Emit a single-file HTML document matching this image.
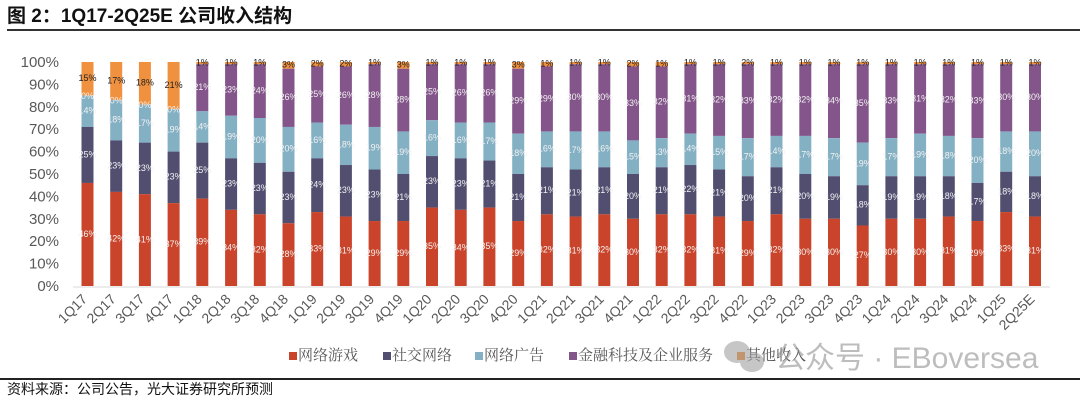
<!DOCTYPE html>
<html><head><meta charset="utf-8"><style>
html,body{margin:0;padding:0;background:#fff;}
svg{display:block;font-family:"Liberation Sans","Noto Sans CJK SC",sans-serif;}
.l{font-size:9px;fill:#f2f2f2;text-anchor:middle;dominant-baseline:middle;}
.k{font-size:9px;fill:#222;text-anchor:middle;dominant-baseline:middle;}
.y{font-size:15px;fill:#595959;text-anchor:end;dominant-baseline:middle;}
.x{font-size:14px;fill:#595959;text-anchor:end;}
.lg{font-size:15px;fill:#595959;dominant-baseline:middle;font-family:"Noto Serif CJK SC","Noto Sans CJK SC",serif;}
</style></head><body>
<svg width="1080" height="401" viewBox="0 0 1080 401">
<text x="7" y="22" style="font-size:19px;font-weight:bold;fill:#111">图 2：1Q17-2Q25E  公司收入结构</text>
<rect x="7" y="29" width="1073" height="2" fill="#333"/>
<g>
<text class="y" x="59" y="287">0%</text><text class="y" x="59" y="264.6">10%</text><text class="y" x="59" y="242.2">20%</text><text class="y" x="59" y="219.8">30%</text><text class="y" x="59" y="197.4">40%</text><text class="y" x="59" y="175">50%</text><text class="y" x="59" y="152.6">60%</text><text class="y" x="59" y="130.2">70%</text><text class="y" x="59" y="107.8">80%</text><text class="y" x="59" y="85.4">90%</text><text class="y" x="59" y="63">100%</text>
</g>
<line x1="73" y1="287" x2="1050" y2="287" stroke="#d9d9d9" stroke-width="1"/>
<defs>
<g id="t"><line x1="0" y1="287" x2="0" y2="291" stroke="#d9d9d9"/></g>
</defs>
<g id="bars">
<!-- bar template: r,d,l,p,o -->
<g transform="translate(87.5,62) scale(1,2.24)"><rect x="-6" y="0" width="12" height="15" fill="#f0913f"/><rect x="-6" y="15" width="12" height="14" fill="#84b0c4"/><rect x="-6" y="29" width="12" height="25" fill="#524e70"/><rect x="-6" y="54" width="12" height="46" fill="#c9442a"/>
<text class="l" transform="translate(0,77) scale(1,.4464)">46%</text><text class="l" transform="translate(0,41.5) scale(1,.4464)">25%</text><text class="l" transform="translate(0,22) scale(1,.4464)">14%</text><text class="l" transform="translate(0,15.5) scale(1,.4464)">0%</text><text class="k" transform="translate(0,7.5) scale(1,.4464)">15%</text></g>
<g transform="translate(116.2,62) scale(1,2.24)"><rect x="-6" y="0" width="12" height="17" fill="#f0913f"/><rect x="-6" y="17" width="12" height="18" fill="#84b0c4"/><rect x="-6" y="35" width="12" height="23" fill="#524e70"/><rect x="-6" y="58" width="12" height="42" fill="#c9442a"/>
<text class="l" transform="translate(0,79) scale(1,.4464)">42%</text><text class="l" transform="translate(0,46.5) scale(1,.4464)">23%</text><text class="l" transform="translate(0,26) scale(1,.4464)">18%</text><text class="l" transform="translate(0,17.5) scale(1,.4464)">0%</text><text class="k" transform="translate(0,8.5) scale(1,.4464)">17%</text></g>
<g transform="translate(144.9,62) scale(1,2.24)"><rect x="-6" y="0" width="12" height="19" fill="#f0913f"/><rect x="-6" y="19" width="12" height="17" fill="#84b0c4"/><rect x="-6" y="36" width="12" height="23" fill="#524e70"/><rect x="-6" y="59" width="12" height="41" fill="#c9442a"/>
<text class="l" transform="translate(0,79.5) scale(1,.4464)">41%</text><text class="l" transform="translate(0,47.5) scale(1,.4464)">23%</text><text class="l" transform="translate(0,27.5) scale(1,.4464)">17%</text><text class="l" transform="translate(0,19.5) scale(1,.4464)">0%</text><text class="k" transform="translate(0,9.5) scale(1,.4464)">18%</text></g>
<g transform="translate(173.6,62) scale(1,2.24)"><rect x="-6" y="0" width="12" height="21" fill="#f0913f"/><rect x="-6" y="21" width="12" height="19" fill="#84b0c4"/><rect x="-6" y="40" width="12" height="23" fill="#524e70"/><rect x="-6" y="63" width="12" height="37" fill="#c9442a"/>
<text class="l" transform="translate(0,81.5) scale(1,.4464)">37%</text><text class="l" transform="translate(0,51.5) scale(1,.4464)">23%</text><text class="l" transform="translate(0,30.5) scale(1,.4464)">19%</text><text class="l" transform="translate(0,21.5) scale(1,.4464)">0%</text><text class="k" transform="translate(0,10.5) scale(1,.4464)">21%</text></g>
</g>
<g id="b2">
<g transform="translate(202.3,62) scale(1,2.24)"><rect x="-6" y="0" width="12" height="1" fill="#f0913f"/><rect x="-6" y="1" width="12" height="21" fill="#83558a"/><rect x="-6" y="22" width="12" height="14" fill="#84b0c4"/><rect x="-6" y="36" width="12" height="25" fill="#524e70"/><rect x="-6" y="61" width="12" height="39" fill="#c9442a"/>
<text class="l" transform="translate(0,80.5) scale(1,.4464)">39%</text><text class="l" transform="translate(0,48.5) scale(1,.4464)">25%</text><text class="l" transform="translate(0,29) scale(1,.4464)">14%</text><text class="l" transform="translate(0,11.5) scale(1,.4464)">21%</text><text class="k" transform="translate(0,.5) scale(1,.4464)">1%</text></g>
<g transform="translate(231.1,62) scale(1,2.24)"><rect x="-6" y="0" width="12" height="1" fill="#f0913f"/><rect x="-6" y="1" width="12" height="23" fill="#83558a"/><rect x="-6" y="24" width="12" height="19" fill="#84b0c4"/><rect x="-6" y="43" width="12" height="23" fill="#524e70"/><rect x="-6" y="66" width="12" height="34" fill="#c9442a"/>
<text class="l" transform="translate(0,83) scale(1,.4464)">34%</text><text class="l" transform="translate(0,54.5) scale(1,.4464)">23%</text><text class="l" transform="translate(0,33.5) scale(1,.4464)">19%</text><text class="l" transform="translate(0,12.5) scale(1,.4464)">23%</text><text class="k" transform="translate(0,.5) scale(1,.4464)">1%</text></g>
<g transform="translate(259.8,62) scale(1,2.24)"><rect x="-6" y="0" width="12" height="1" fill="#f0913f"/><rect x="-6" y="1" width="12" height="24" fill="#83558a"/><rect x="-6" y="25" width="12" height="20" fill="#84b0c4"/><rect x="-6" y="45" width="12" height="23" fill="#524e70"/><rect x="-6" y="68" width="12" height="32" fill="#c9442a"/>
<text class="l" transform="translate(0,84) scale(1,.4464)">32%</text><text class="l" transform="translate(0,56.5) scale(1,.4464)">23%</text><text class="l" transform="translate(0,35) scale(1,.4464)">20%</text><text class="l" transform="translate(0,13) scale(1,.4464)">24%</text><text class="k" transform="translate(0,.5) scale(1,.4464)">1%</text></g>
<g transform="translate(288.5,62) scale(1,2.24)"><rect x="-6" y="0" width="12" height="3" fill="#f0913f"/><rect x="-6" y="3" width="12" height="26" fill="#83558a"/><rect x="-6" y="29" width="12" height="20" fill="#84b0c4"/><rect x="-6" y="49" width="12" height="23" fill="#524e70"/><rect x="-6" y="72" width="12" height="28" fill="#c9442a"/>
<text class="l" transform="translate(0,86) scale(1,.4464)">28%</text><text class="l" transform="translate(0,60.5) scale(1,.4464)">23%</text><text class="l" transform="translate(0,39) scale(1,.4464)">20%</text><text class="l" transform="translate(0,16) scale(1,.4464)">26%</text><text class="k" transform="translate(0,1.5) scale(1,.4464)">3%</text></g>
<g transform="translate(317.2,62) scale(1,2.24)"><rect x="-6" y="0" width="12" height="2" fill="#f0913f"/><rect x="-6" y="2" width="12" height="25" fill="#83558a"/><rect x="-6" y="27" width="12" height="16" fill="#84b0c4"/><rect x="-6" y="43" width="12" height="24" fill="#524e70"/><rect x="-6" y="67" width="12" height="33" fill="#c9442a"/>
<text class="l" transform="translate(0,83.5) scale(1,.4464)">33%</text><text class="l" transform="translate(0,55) scale(1,.4464)">24%</text><text class="l" transform="translate(0,35) scale(1,.4464)">16%</text><text class="l" transform="translate(0,14.5) scale(1,.4464)">25%</text><text class="k" transform="translate(0,1) scale(1,.4464)">2%</text></g>
<g transform="translate(345.9,62) scale(1,2.24)"><rect x="-6" y="0" width="12" height="2" fill="#f0913f"/><rect x="-6" y="2" width="12" height="26" fill="#83558a"/><rect x="-6" y="28" width="12" height="18" fill="#84b0c4"/><rect x="-6" y="46" width="12" height="23" fill="#524e70"/><rect x="-6" y="69" width="12" height="31" fill="#c9442a"/>
<text class="l" transform="translate(0,84.5) scale(1,.4464)">31%</text><text class="l" transform="translate(0,57.5) scale(1,.4464)">23%</text><text class="l" transform="translate(0,37) scale(1,.4464)">18%</text><text class="l" transform="translate(0,15) scale(1,.4464)">26%</text><text class="k" transform="translate(0,1) scale(1,.4464)">2%</text></g>
<g transform="translate(374.6,62) scale(1,2.24)"><rect x="-6" y="0" width="12" height="1" fill="#f0913f"/><rect x="-6" y="1" width="12" height="28" fill="#83558a"/><rect x="-6" y="29" width="12" height="19" fill="#84b0c4"/><rect x="-6" y="48" width="12" height="23" fill="#524e70"/><rect x="-6" y="71" width="12" height="29" fill="#c9442a"/>
<text class="l" transform="translate(0,85.5) scale(1,.4464)">29%</text><text class="l" transform="translate(0,59.5) scale(1,.4464)">23%</text><text class="l" transform="translate(0,38.5) scale(1,.4464)">19%</text><text class="l" transform="translate(0,15) scale(1,.4464)">28%</text><text class="k" transform="translate(0,.5) scale(1,.4464)">1%</text></g>
<g transform="translate(403.3,62) scale(1,2.24)"><rect x="-6" y="0" width="12" height="3" fill="#f0913f"/><rect x="-6" y="3" width="12" height="28" fill="#83558a"/><rect x="-6" y="31" width="12" height="19" fill="#84b0c4"/><rect x="-6" y="50" width="12" height="21" fill="#524e70"/><rect x="-6" y="71" width="12" height="29" fill="#c9442a"/>
<text class="l" transform="translate(0,85.5) scale(1,.4464)">29%</text><text class="l" transform="translate(0,60.5) scale(1,.4464)">21%</text><text class="l" transform="translate(0,40.5) scale(1,.4464)">19%</text><text class="l" transform="translate(0,17) scale(1,.4464)">28%</text><text class="k" transform="translate(0,1.5) scale(1,.4464)">3%</text></g>
<g transform="translate(432,62) scale(1,2.24)"><rect x="-6" y="0" width="12" height="1" fill="#f0913f"/><rect x="-6" y="1" width="12" height="25" fill="#83558a"/><rect x="-6" y="26" width="12" height="16" fill="#84b0c4"/><rect x="-6" y="42" width="12" height="23" fill="#524e70"/><rect x="-6" y="65" width="12" height="35" fill="#c9442a"/>
<text class="l" transform="translate(0,82.5) scale(1,.4464)">35%</text><text class="l" transform="translate(0,53.5) scale(1,.4464)">23%</text><text class="l" transform="translate(0,34) scale(1,.4464)">16%</text><text class="l" transform="translate(0,13.5) scale(1,.4464)">25%</text><text class="k" transform="translate(0,.5) scale(1,.4464)">1%</text></g>
<g transform="translate(460.7,62) scale(1,2.24)"><rect x="-6" y="0" width="12" height="1" fill="#f0913f"/><rect x="-6" y="1" width="12" height="26" fill="#83558a"/><rect x="-6" y="27" width="12" height="16" fill="#84b0c4"/><rect x="-6" y="43" width="12" height="23" fill="#524e70"/><rect x="-6" y="66" width="12" height="34" fill="#c9442a"/>
<text class="l" transform="translate(0,83) scale(1,.4464)">34%</text><text class="l" transform="translate(0,54.5) scale(1,.4464)">23%</text><text class="l" transform="translate(0,35) scale(1,.4464)">16%</text><text class="l" transform="translate(0,14) scale(1,.4464)">26%</text><text class="k" transform="translate(0,.5) scale(1,.4464)">1%</text></g>
<g transform="translate(489.4,62) scale(1,2.24)"><rect x="-6" y="0" width="12" height="1" fill="#f0913f"/><rect x="-6" y="1" width="12" height="26" fill="#83558a"/><rect x="-6" y="27" width="12" height="17" fill="#84b0c4"/><rect x="-6" y="44" width="12" height="21" fill="#524e70"/><rect x="-6" y="65" width="12" height="35" fill="#c9442a"/>
<text class="l" transform="translate(0,82.5) scale(1,.4464)">35%</text><text class="l" transform="translate(0,54.5) scale(1,.4464)">21%</text><text class="l" transform="translate(0,35.5) scale(1,.4464)">17%</text><text class="l" transform="translate(0,14) scale(1,.4464)">26%</text><text class="k" transform="translate(0,.5) scale(1,.4464)">1%</text></g>
<g transform="translate(518.2,62) scale(1,2.24)"><rect x="-6" y="0" width="12" height="3" fill="#f0913f"/><rect x="-6" y="3" width="12" height="29" fill="#83558a"/><rect x="-6" y="32" width="12" height="18" fill="#84b0c4"/><rect x="-6" y="50" width="12" height="21" fill="#524e70"/><rect x="-6" y="71" width="12" height="29" fill="#c9442a"/>
<text class="l" transform="translate(0,85.5) scale(1,.4464)">29%</text><text class="l" transform="translate(0,60.5) scale(1,.4464)">21%</text><text class="l" transform="translate(0,41) scale(1,.4464)">18%</text><text class="l" transform="translate(0,17.5) scale(1,.4464)">29%</text><text class="k" transform="translate(0,1.5) scale(1,.4464)">3%</text></g>
<g transform="translate(546.9,62) scale(1,2.24)"><rect x="-6" y="0" width="12" height="2" fill="#f0913f"/><rect x="-6" y="2" width="12" height="29" fill="#83558a"/><rect x="-6" y="31" width="12" height="16" fill="#84b0c4"/><rect x="-6" y="47" width="12" height="21" fill="#524e70"/><rect x="-6" y="68" width="12" height="32" fill="#c9442a"/>
<text class="l" transform="translate(0,84) scale(1,.4464)">32%</text><text class="l" transform="translate(0,57.5) scale(1,.4464)">21%</text><text class="l" transform="translate(0,39) scale(1,.4464)">16%</text><text class="l" transform="translate(0,16.5) scale(1,.4464)">29%</text><text class="k" transform="translate(0,1) scale(1,.4464)">1%</text></g>
<g transform="translate(575.6,62) scale(1,2.24)"><rect x="-6" y="0" width="12" height="1" fill="#f0913f"/><rect x="-6" y="1" width="12" height="30" fill="#83558a"/><rect x="-6" y="31" width="12" height="17" fill="#84b0c4"/><rect x="-6" y="48" width="12" height="21" fill="#524e70"/><rect x="-6" y="69" width="12" height="31" fill="#c9442a"/>
<text class="l" transform="translate(0,84.5) scale(1,.4464)">31%</text><text class="l" transform="translate(0,58.5) scale(1,.4464)">21%</text><text class="l" transform="translate(0,39.5) scale(1,.4464)">17%</text><text class="l" transform="translate(0,16) scale(1,.4464)">30%</text><text class="k" transform="translate(0,.5) scale(1,.4464)">1%</text></g>
<g transform="translate(604.3,62) scale(1,2.24)"><rect x="-6" y="0" width="12" height="1" fill="#f0913f"/><rect x="-6" y="1" width="12" height="30" fill="#83558a"/><rect x="-6" y="31" width="12" height="16" fill="#84b0c4"/><rect x="-6" y="47" width="12" height="21" fill="#524e70"/><rect x="-6" y="68" width="12" height="32" fill="#c9442a"/>
<text class="l" transform="translate(0,84) scale(1,.4464)">32%</text><text class="l" transform="translate(0,57.5) scale(1,.4464)">21%</text><text class="l" transform="translate(0,39) scale(1,.4464)">16%</text><text class="l" transform="translate(0,16) scale(1,.4464)">30%</text><text class="k" transform="translate(0,.5) scale(1,.4464)">1%</text></g>
<g transform="translate(633,62) scale(1,2.24)"><rect x="-6" y="0" width="12" height="2" fill="#f0913f"/><rect x="-6" y="2" width="12" height="33" fill="#83558a"/><rect x="-6" y="35" width="12" height="15" fill="#84b0c4"/><rect x="-6" y="50" width="12" height="20" fill="#524e70"/><rect x="-6" y="70" width="12" height="30" fill="#c9442a"/>
<text class="l" transform="translate(0,85) scale(1,.4464)">30%</text><text class="l" transform="translate(0,60) scale(1,.4464)">20%</text><text class="l" transform="translate(0,42.5) scale(1,.4464)">15%</text><text class="l" transform="translate(0,18.5) scale(1,.4464)">33%</text><text class="k" transform="translate(0,1) scale(1,.4464)">2%</text></g>
<g transform="translate(661.7,62) scale(1,2.24)"><rect x="-6" y="0" width="12" height="2" fill="#f0913f"/><rect x="-6" y="2" width="12" height="32" fill="#83558a"/><rect x="-6" y="34" width="12" height="13" fill="#84b0c4"/><rect x="-6" y="47" width="12" height="21" fill="#524e70"/><rect x="-6" y="68" width="12" height="32" fill="#c9442a"/>
<text class="l" transform="translate(0,84) scale(1,.4464)">32%</text><text class="l" transform="translate(0,57.5) scale(1,.4464)">21%</text><text class="l" transform="translate(0,40.5) scale(1,.4464)">13%</text><text class="l" transform="translate(0,18) scale(1,.4464)">32%</text><text class="k" transform="translate(0,1) scale(1,.4464)">1%</text></g>
<g transform="translate(690.4,62) scale(1,2.24)"><rect x="-6" y="0" width="12" height="1" fill="#f0913f"/><rect x="-6" y="1" width="12" height="31" fill="#83558a"/><rect x="-6" y="32" width="12" height="14" fill="#84b0c4"/><rect x="-6" y="46" width="12" height="22" fill="#524e70"/><rect x="-6" y="68" width="12" height="32" fill="#c9442a"/>
<text class="l" transform="translate(0,84) scale(1,.4464)">32%</text><text class="l" transform="translate(0,57) scale(1,.4464)">22%</text><text class="l" transform="translate(0,39) scale(1,.4464)">14%</text><text class="l" transform="translate(0,16.5) scale(1,.4464)">31%</text><text class="k" transform="translate(0,.5) scale(1,.4464)">1%</text></g>
<g transform="translate(719.1,62) scale(1,2.24)"><rect x="-6" y="0" width="12" height="1" fill="#f0913f"/><rect x="-6" y="1" width="12" height="32" fill="#83558a"/><rect x="-6" y="33" width="12" height="15" fill="#84b0c4"/><rect x="-6" y="48" width="12" height="21" fill="#524e70"/><rect x="-6" y="69" width="12" height="31" fill="#c9442a"/>
<text class="l" transform="translate(0,84.5) scale(1,.4464)">31%</text><text class="l" transform="translate(0,58.5) scale(1,.4464)">21%</text><text class="l" transform="translate(0,40.5) scale(1,.4464)">15%</text><text class="l" transform="translate(0,17) scale(1,.4464)">32%</text><text class="k" transform="translate(0,.5) scale(1,.4464)">1%</text></g>
<g transform="translate(747.8,62) scale(1,2.24)"><rect x="-6" y="0" width="12" height="1" fill="#f0913f"/><rect x="-6" y="1" width="12" height="33" fill="#83558a"/><rect x="-6" y="34" width="12" height="17" fill="#84b0c4"/><rect x="-6" y="51" width="12" height="20" fill="#524e70"/><rect x="-6" y="71" width="12" height="29" fill="#c9442a"/>
<text class="l" transform="translate(0,85.5) scale(1,.4464)">29%</text><text class="l" transform="translate(0,61) scale(1,.4464)">20%</text><text class="l" transform="translate(0,42.5) scale(1,.4464)">17%</text><text class="l" transform="translate(0,17.5) scale(1,.4464)">33%</text><text class="k" transform="translate(0,.5) scale(1,.4464)">2%</text></g>
<g transform="translate(776.5,62) scale(1,2.24)"><rect x="-6" y="0" width="12" height="1" fill="#f0913f"/><rect x="-6" y="1" width="12" height="32" fill="#83558a"/><rect x="-6" y="33" width="12" height="14" fill="#84b0c4"/><rect x="-6" y="47" width="12" height="21" fill="#524e70"/><rect x="-6" y="68" width="12" height="32" fill="#c9442a"/>
<text class="l" transform="translate(0,84) scale(1,.4464)">32%</text><text class="l" transform="translate(0,57.5) scale(1,.4464)">21%</text><text class="l" transform="translate(0,40) scale(1,.4464)">14%</text><text class="l" transform="translate(0,17) scale(1,.4464)">32%</text><text class="k" transform="translate(0,.5) scale(1,.4464)">1%</text></g>
<g transform="translate(805.3,62) scale(1,2.24)"><rect x="-6" y="0" width="12" height="1" fill="#f0913f"/><rect x="-6" y="1" width="12" height="32" fill="#83558a"/><rect x="-6" y="33" width="12" height="17" fill="#84b0c4"/><rect x="-6" y="50" width="12" height="20" fill="#524e70"/><rect x="-6" y="70" width="12" height="30" fill="#c9442a"/>
<text class="l" transform="translate(0,85) scale(1,.4464)">30%</text><text class="l" transform="translate(0,60) scale(1,.4464)">20%</text><text class="l" transform="translate(0,41.5) scale(1,.4464)">17%</text><text class="l" transform="translate(0,17) scale(1,.4464)">32%</text><text class="k" transform="translate(0,.5) scale(1,.4464)">1%</text></g>
<g transform="translate(834,62) scale(1,2.24)"><rect x="-6" y="0" width="12" height="1" fill="#f0913f"/><rect x="-6" y="1" width="12" height="33" fill="#83558a"/><rect x="-6" y="34" width="12" height="17" fill="#84b0c4"/><rect x="-6" y="51" width="12" height="19" fill="#524e70"/><rect x="-6" y="70" width="12" height="30" fill="#c9442a"/>
<text class="l" transform="translate(0,85) scale(1,.4464)">30%</text><text class="l" transform="translate(0,60.5) scale(1,.4464)">19%</text><text class="l" transform="translate(0,42.5) scale(1,.4464)">17%</text><text class="l" transform="translate(0,17.5) scale(1,.4464)">34%</text><text class="k" transform="translate(0,.5) scale(1,.4464)">1%</text></g>
<g transform="translate(862.7,62) scale(1,2.24)"><rect x="-6" y="0" width="12" height="1" fill="#f0913f"/><rect x="-6" y="1" width="12" height="35" fill="#83558a"/><rect x="-6" y="36" width="12" height="19" fill="#84b0c4"/><rect x="-6" y="55" width="12" height="18" fill="#524e70"/><rect x="-6" y="73" width="12" height="27" fill="#c9442a"/>
<text class="l" transform="translate(0,86.5) scale(1,.4464)">27%</text><text class="l" transform="translate(0,64) scale(1,.4464)">18%</text><text class="l" transform="translate(0,45.5) scale(1,.4464)">19%</text><text class="l" transform="translate(0,18.5) scale(1,.4464)">35%</text><text class="k" transform="translate(0,.5) scale(1,.4464)">1%</text></g>
<g transform="translate(891.4,62) scale(1,2.24)"><rect x="-6" y="0" width="12" height="1" fill="#f0913f"/><rect x="-6" y="1" width="12" height="33" fill="#83558a"/><rect x="-6" y="34" width="12" height="17" fill="#84b0c4"/><rect x="-6" y="51" width="12" height="19" fill="#524e70"/><rect x="-6" y="70" width="12" height="30" fill="#c9442a"/>
<text class="l" transform="translate(0,85) scale(1,.4464)">30%</text><text class="l" transform="translate(0,60.5) scale(1,.4464)">19%</text><text class="l" transform="translate(0,42.5) scale(1,.4464)">17%</text><text class="l" transform="translate(0,17.5) scale(1,.4464)">33%</text><text class="k" transform="translate(0,.5) scale(1,.4464)">1%</text></g>
<g transform="translate(920.1,62) scale(1,2.24)"><rect x="-6" y="0" width="12" height="1" fill="#f0913f"/><rect x="-6" y="1" width="12" height="31" fill="#83558a"/><rect x="-6" y="32" width="12" height="19" fill="#84b0c4"/><rect x="-6" y="51" width="12" height="19" fill="#524e70"/><rect x="-6" y="70" width="12" height="30" fill="#c9442a"/>
<text class="l" transform="translate(0,85) scale(1,.4464)">30%</text><text class="l" transform="translate(0,60.5) scale(1,.4464)">19%</text><text class="l" transform="translate(0,41.5) scale(1,.4464)">19%</text><text class="l" transform="translate(0,16.5) scale(1,.4464)">31%</text><text class="k" transform="translate(0,.5) scale(1,.4464)">1%</text></g>
<g transform="translate(948.8,62) scale(1,2.24)"><rect x="-6" y="0" width="12" height="1" fill="#f0913f"/><rect x="-6" y="1" width="12" height="32" fill="#83558a"/><rect x="-6" y="33" width="12" height="18" fill="#84b0c4"/><rect x="-6" y="51" width="12" height="18" fill="#524e70"/><rect x="-6" y="69" width="12" height="31" fill="#c9442a"/>
<text class="l" transform="translate(0,84.5) scale(1,.4464)">31%</text><text class="l" transform="translate(0,60) scale(1,.4464)">18%</text><text class="l" transform="translate(0,42) scale(1,.4464)">18%</text><text class="l" transform="translate(0,17) scale(1,.4464)">32%</text><text class="k" transform="translate(0,.5) scale(1,.4464)">1%</text></g>
<g transform="translate(977.5,62) scale(1,2.24)"><rect x="-6" y="0" width="12" height="1" fill="#f0913f"/><rect x="-6" y="1" width="12" height="33" fill="#83558a"/><rect x="-6" y="34" width="12" height="20" fill="#84b0c4"/><rect x="-6" y="54" width="12" height="17" fill="#524e70"/><rect x="-6" y="71" width="12" height="29" fill="#c9442a"/>
<text class="l" transform="translate(0,85.5) scale(1,.4464)">29%</text><text class="l" transform="translate(0,62.5) scale(1,.4464)">17%</text><text class="l" transform="translate(0,44) scale(1,.4464)">20%</text><text class="l" transform="translate(0,17.5) scale(1,.4464)">33%</text><text class="k" transform="translate(0,.5) scale(1,.4464)">1%</text></g>
<g transform="translate(1006.2,62) scale(1,2.24)"><rect x="-6" y="0" width="12" height="1" fill="#f0913f"/><rect x="-6" y="1" width="12" height="30" fill="#83558a"/><rect x="-6" y="31" width="12" height="18" fill="#84b0c4"/><rect x="-6" y="49" width="12" height="18" fill="#524e70"/><rect x="-6" y="67" width="12" height="33" fill="#c9442a"/>
<text class="l" transform="translate(0,83.5) scale(1,.4464)">33%</text><text class="l" transform="translate(0,58) scale(1,.4464)">18%</text><text class="l" transform="translate(0,40) scale(1,.4464)">18%</text><text class="l" transform="translate(0,16) scale(1,.4464)">30%</text><text class="k" transform="translate(0,.5) scale(1,.4464)">1%</text></g>
<g transform="translate(1035,62) scale(1,2.24)"><rect x="-6" y="0" width="12" height="1" fill="#f0913f"/><rect x="-6" y="1" width="12" height="30" fill="#83558a"/><rect x="-6" y="31" width="12" height="20" fill="#84b0c4"/><rect x="-6" y="51" width="12" height="18" fill="#524e70"/><rect x="-6" y="69" width="12" height="31" fill="#c9442a"/>
<text class="l" transform="translate(0,84.5) scale(1,.4464)">31%</text><text class="l" transform="translate(0,60) scale(1,.4464)">18%</text><text class="l" transform="translate(0,41) scale(1,.4464)">20%</text><text class="l" transform="translate(0,16) scale(1,.4464)">30%</text><text class="k" transform="translate(0,.5) scale(1,.4464)">1%</text></g>
</g>
<g>
<text class="x" transform="translate(88,300) rotate(-45)">1Q17</text>
<text class="x" transform="translate(116.7,300) rotate(-45)">2Q17</text>
<text class="x" transform="translate(145.4,300) rotate(-45)">3Q17</text>
<text class="x" transform="translate(174.1,300) rotate(-45)">4Q17</text>
<text class="x" transform="translate(202.8,300) rotate(-45)">1Q18</text>
<text class="x" transform="translate(231.6,300) rotate(-45)">2Q18</text>
<text class="x" transform="translate(260.3,300) rotate(-45)">3Q18</text>
<text class="x" transform="translate(289,300) rotate(-45)">4Q18</text>
<text class="x" transform="translate(317.7,300) rotate(-45)">1Q19</text>
<text class="x" transform="translate(346.4,300) rotate(-45)">2Q19</text>
<text class="x" transform="translate(375.1,300) rotate(-45)">3Q19</text>
<text class="x" transform="translate(403.8,300) rotate(-45)">4Q19</text>
<text class="x" transform="translate(432.5,300) rotate(-45)">1Q20</text>
<text class="x" transform="translate(461.2,300) rotate(-45)">2Q20</text>
<text class="x" transform="translate(489.9,300) rotate(-45)">3Q20</text>
<text class="x" transform="translate(518.7,300) rotate(-45)">4Q20</text>
<text class="x" transform="translate(547.4,300) rotate(-45)">1Q21</text>
<text class="x" transform="translate(576.1,300) rotate(-45)">2Q21</text>
<text class="x" transform="translate(604.8,300) rotate(-45)">3Q21</text>
<text class="x" transform="translate(633.5,300) rotate(-45)">4Q21</text>
<text class="x" transform="translate(662.2,300) rotate(-45)">1Q22</text>
<text class="x" transform="translate(690.9,300) rotate(-45)">2Q22</text>
<text class="x" transform="translate(719.6,300) rotate(-45)">3Q22</text>
<text class="x" transform="translate(748.3,300) rotate(-45)">4Q22</text>
<text class="x" transform="translate(777,300) rotate(-45)">1Q23</text>
<text class="x" transform="translate(805.8,300) rotate(-45)">2Q23</text>
<text class="x" transform="translate(834.5,300) rotate(-45)">3Q23</text>
<text class="x" transform="translate(863.2,300) rotate(-45)">4Q23</text>
<text class="x" transform="translate(891.9,300) rotate(-45)">1Q24</text>
<text class="x" transform="translate(920.6,300) rotate(-45)">2Q24</text>
<text class="x" transform="translate(949.3,300) rotate(-45)">3Q24</text>
<text class="x" transform="translate(978,300) rotate(-45)">4Q24</text>
<text class="x" transform="translate(1006.7,300) rotate(-45)">1Q25</text>
<text class="x" transform="translate(1035.5,300) rotate(-45)">2Q25E</text>
</g>
<g>
<rect x="289" y="352" width="8" height="8" fill="#c9442a"/><text class="lg" x="298" y="356">网络游戏</text>
<rect x="383" y="352" width="8" height="8" fill="#524e70"/><text class="lg" x="392" y="356">社交网络</text>
<rect x="475" y="352" width="8" height="8" fill="#84b0c4"/><text class="lg" x="484" y="356">网络广告</text>
<rect x="569" y="352" width="8" height="8" fill="#83558a"/><text class="lg" x="578" y="356">金融科技及企业服务</text>
<rect x="737" y="352" width="8" height="8" fill="#f0913f"/><text class="lg" x="746" y="356">其他收入</text>
</g>
<g opacity="0.55">
<ellipse cx="737" cy="352" rx="13" ry="11" fill="#999"/>
<ellipse cx="752" cy="362" rx="12" ry="10" fill="#999"/>
<text x="775" y="368" style="font-size:30px;fill:#888;font-family:'Liberation Sans','Noto Sans CJK SC',sans-serif">公众号 · EBoversea</text>
</g>
<rect x="0" y="378" width="1080" height="2" fill="#222"/>
<text x="7" y="394" style="font-size:14px;fill:#111">资料来源：公司公告，光大证券研究所预测</text>
</svg>
</body></html>
